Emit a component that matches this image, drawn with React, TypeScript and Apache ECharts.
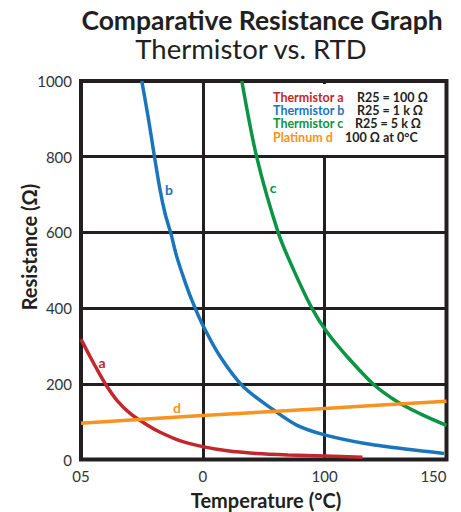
import React, { useEffect, useRef } from "react";
import * as echarts from "echarts";

// Tick labels of the x axis (as printed on the reference) at positions 0..3
const xTickLabels = ["05", "0", "100", "150"];

// [x position (tick index units), resistance Ω]
const thermistorA = [
  [0, 318], [0.074, 272], [0.142, 232], [0.211, 194], [0.293, 157], [0.403, 122],
  [0.54, 92], [0.65, 72], [0.81, 50], [1.0, 34], [1.2, 23], [1.44, 16], [1.7, 12],
  [2.0, 9], [2.31, 6],
];
const thermistorB = [
  [0.499, 1000], [0.553, 901], [0.603, 800], [0.649, 712], [0.69, 650], [0.737, 598],
  [0.786, 536], [0.849, 474], [0.91, 421], [0.992, 360], [1.142, 272], [1.333, 192],
  [1.58, 131], [1.77, 91], [2.0, 65], [2.32, 43], [2.68, 27], [2.98, 16],
];
const thermistorC = [
  [1.32, 1000], [1.443, 798], [1.62, 598], [1.745, 501], [1.895, 400], [2.02, 336],
  [2.184, 272], [2.4, 199], [2.6, 152], [2.79, 120], [3.0, 90],
];
const platinumD = [[0, 96], [1, 116], [2, 135], [3, 154]];

const seriesNames = ["Thermistor a", "Thermistor b", "Thermistor c", "Platinum d"];
const seriesNotes = ["R25 = 100 Ω", "R25 = 1 k Ω", "R25 = 5 k Ω", "100 Ω at 0°C"];
const curveLetters = ["a", "b", "c", "d"];
const colors = ["#c1272d", "#1b75bb", "#0b9444", "#f7931e"];
const INK = "#231f20";
const FONT = "Lato, 'Open Sans', sans-serif";

export default function App() {
  const ref = useRef<HTMLDivElement>(null);
  useEffect(() => {
    if (!ref.current) return;
    const chart = echarts.init(ref.current, null, { renderer: "svg" });
    const datasets = [thermistorA, thermistorB, thermistorC, platinumD];
    const letterPos = [
      [102, 362], [169, 189], [273, 187], [177, 407],
    ];
    const noteX = [357, 357, 355, 345];
    const legendLines: any[] = [];
    seriesNames.forEach((n, i) => {
      const y = 97 + i * 13.4;
      legendLines.push({
        type: "text", z: 101, x: 273, y,
        style: {
          text: n, fill: colors[i], fontFamily: FONT, fontWeight: "bold",
          fontSize: 12.5, lineHeight: 12, verticalAlign: "middle", textAlign: "left",
        },
      });
      legendLines.push({
        type: "text", z: 101, x: noteX[i], y,
        style: {
          text: seriesNotes[i], fill: INK, fontFamily: FONT, fontWeight: "bold",
          fontSize: 12.5, lineHeight: 12, verticalAlign: "middle", textAlign: "left",
        },
      });
    });
    chart.setOption({
      animation: false,
      grid: {
        left: 81, right: 14.5, top: 81, bottom: 52.5,
        show: true, borderColor: INK, borderWidth: 4, backgroundColor: "#fff",
      },
      xAxis: {
        type: "value", min: 0, max: 3, interval: 1,
        axisLine: { show: false }, axisTick: { show: false },
        splitLine: { show: true, lineStyle: { color: INK, width: 3 } },
        axisLabel: {
          formatter: (v: number) => xTickLabels[Math.round(v)] ?? "",
          color: "#333", fontSize: 15, fontFamily: FONT, margin: 9,
          alignMaxLabel: "right",
        },
      },
      yAxis: {
        type: "value", min: 0, max: 1000, interval: 200,
        axisLine: { show: false }, axisTick: { show: false },
        splitLine: { show: true, lineStyle: { color: INK, width: 3 } },
        axisLabel: {
          formatter: (v: number) => String(v),
          color: "#333", fontSize: 15, fontFamily: FONT, margin: 9,
        },
      },
      series: datasets.map((d, i) => ({
        type: "line",
        name: seriesNames[i],
        data: d,
        smooth: 0.3,
        showSymbol: false,
        z: 3,
        lineStyle: { color: colors[i], width: 3.5 },
      })),
      graphic: [
        {
          type: "text", x: 262, y: 20, z: 101,
          style: {
            text: "Comparative Resistance Graph", fill: INK, fontFamily: FONT,
            fontWeight: "bold", fontSize: 26.5, lineHeight: 26,
            textAlign: "center", verticalAlign: "middle",
          },
        },
        {
          type: "text", x: 251, y: 48, z: 101,
          style: {
            text: "Thermistor vs. RTD", fill: INK, fontFamily: FONT,
            fontSize: 27.5, lineHeight: 26, textAlign: "center", verticalAlign: "middle",
          },
        },
        {
          type: "text", x: 266, y: 500, z: 101,
          style: {
            text: "Temperature (°C)", fill: INK, fontFamily: FONT,
            fontWeight: "bold", fontSize: 20, textAlign: "center", verticalAlign: "middle",
          },
        },
        {
          type: "text", x: 29, y: 247, z: 101, rotation: Math.PI / 2,
          style: {
            text: "Resistance (Ω)", fill: INK, fontFamily: FONT,
            fontWeight: "bold", fontSize: 20, textAlign: "center", verticalAlign: "middle",
          },
        },
        {
          type: "rect", z: 100,
          shape: { x: 262, y: 84, width: 182, height: 71 },
          style: { fill: "#fff" },
        },
        ...legendLines,
        ...curveLetters.map((l, i) => ({
          type: "text", z: 101, x: letterPos[i][0], y: letterPos[i][1],
          style: {
            text: l, fill: colors[i], fontFamily: FONT, fontWeight: "bold",
            fontSize: 14, textAlign: "center", verticalAlign: "middle",
          },
        })),
      ],
    });
    return () => chart.dispose();
  }, []);
  return (
    <div
      ref={ref}
      style={{ position: "absolute", left: 0, top: 0, width: 461, height: 512 }}
    />
  );
}
